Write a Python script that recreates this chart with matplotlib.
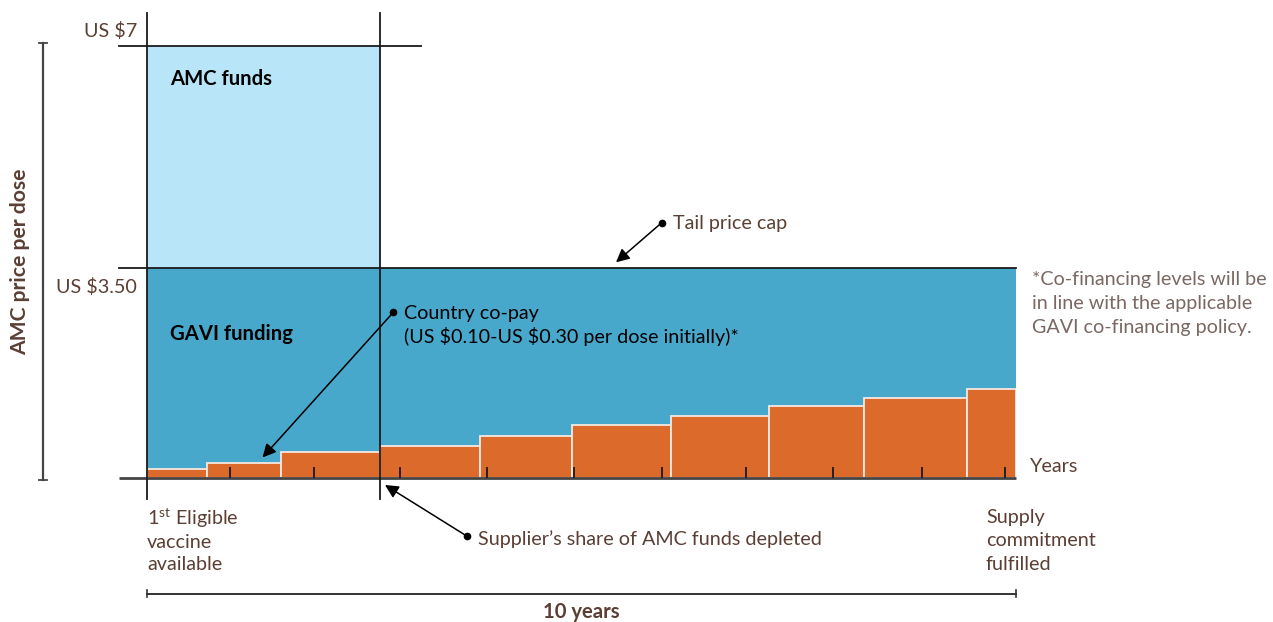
import numpy as np
import matplotlib
matplotlib.use("Agg")
import matplotlib.pyplot as plt
from matplotlib.transforms import blended_transform_factory

# ---------------- data ----------------
price_levels = [3.5, 7.0]                      # US $ per dose: tail price cap, AMC price
price_labels = ["US $3.50", "US $7"]
years_total = 10
amc_depleted_year = 2.682                       # supplier's share of AMC funds depleted
step_edges = [0, 0.687, 1.546, 2.682, 3.836, 4.895, 6.027, 7.161, 8.250, 9.432, 10]
copay = [0.142, 0.243, 0.432, 0.532, 0.689, 0.870, 1.024, 1.201, 1.335, 1.486]
tick_years = [0.952, 1.918, 2.915, 3.913, 4.910, 5.923, 6.889, 7.890, 8.918, 9.870]

# ---------------- style ----------------
W, H = 1273, 622
LIGHT = "#b9e5f8"
DARK = "#48a8cc"
ORANGE = "#dc6a2a"
BROWN = "#5b3f35"
NOTE = "#7a6863"
LINE = "#1a1a1a"
FONT = ["Lato", "DejaVu Sans"]
FS = 14.2
FSB = 14.6

plt.rcParams["font.family"] = FONT
plt.rcParams["mathtext.fontset"] = "custom"
plt.rcParams["mathtext.rm"] = "Lato"

fig = plt.figure(figsize=(W / 100, H / 100), dpi=100)
# data area: x 147..1016 px, y baseline 477.5 px .. $7 line 45.7 px
ax = fig.add_axes([147 / W, 1 - 477.5 / H, (1016 - 147) / W, (477.5 - 45.7) / H])

# piecewise (not-to-scale) price axis, as in the schematic
lo_px, hi_px = 209.2, 222.6


def fwd(y):
    y = np.asarray(y, dtype=float)
    return np.where(y <= 3.5, y * lo_px / 3.5, lo_px + (y - 3.5) * hi_px / 3.5)


def inv(p):
    p = np.asarray(p, dtype=float)
    return np.where(p <= lo_px, p * 3.5 / lo_px, 3.5 + (p - lo_px) * 3.5 / hi_px)


ax.set_yscale("function", functions=(fwd, inv))
ax.set_xlim(0, years_total)
ax.set_ylim(0, price_levels[1])
ax.axis("off")


def fx(x):
    return x / W


def fy(y):
    return 1 - y / H


# funding blocks
ax.bar(0, price_levels[1] - price_levels[0], width=amc_depleted_year, bottom=price_levels[0],
       align="edge", color=LIGHT, linewidth=0, zorder=1)
ax.bar(0, price_levels[0], width=years_total, align="edge", color=DARK, linewidth=0, zorder=1)

# country co-pay steps
edges = np.array(step_edges)
ax.bar(edges[:-1], copay, width=np.diff(edges), align="edge", color=ORANGE,
       edgecolor="#f6e9e1", linewidth=1.3, zorder=2)

# structural lines
xl = -0.322
ax.plot([xl, 3.15], [price_levels[1]] * 2, color=LINE, lw=1.3, clip_on=False, zorder=3)
ax.plot([xl, years_total], [price_levels[0]] * 2, color=LINE, lw=1.3, clip_on=False, zorder=3)
ax.plot([xl, years_total], [0, 0], color="#444444", lw=2.0, clip_on=False, zorder=3, solid_capstyle="butt")
for xv in (0, amc_depleted_year):
    ax.plot([xv, xv], [-0.36, 7.52], color=LINE, lw=1.3, clip_on=False, zorder=4)
ax.vlines(tick_years, 0, 0.17, color=LINE, lw=1.3, zorder=4)

# y-axis bracket
tb = blended_transform_factory(fig.transFigure, ax.transData)
fig.add_artist(plt.Line2D([fx(42.7)] * 2, [7.04, -0.04], transform=tb, color="#444444", lw=1.6))
for yv in (7.04, -0.04):
    fig.add_artist(plt.Line2D([fx(39), fx(46.5)], [yv, yv], transform=tb, color="#444444", lw=1.3))
fig.text(fx(20), fy(262), "AMC price per dose", rotation=90, ha="center", va="center",
         fontsize=15.2, fontweight="bold", color=BROWN)

# price labels
fig.text(fx(137), fy(31), price_labels[1], ha="right", va="center", fontsize=FS, color=BROWN)
fig.text(fx(137), fy(287), price_labels[0], ha="right", va="center", fontsize=FS, color=BROWN)

# block labels
fig.text(fx(170), fy(79), "AMC funds", ha="left", va="center", fontsize=FSB, fontweight="bold", color="black")
fig.text(fx(170), fy(334), "GAVI funding", ha="left", va="center", fontsize=FSB, fontweight="bold", color="black")

# annotations with dot + arrow
def pointer(dot_px, tip_px):
    ax.annotate("", xy=(fx(tip_px[0]), fy(tip_px[1])), xycoords="figure fraction",
                xytext=(fx(dot_px[0]), fy(dot_px[1])), textcoords="figure fraction",
                arrowprops=dict(arrowstyle="-|>", color="black", lw=1.1, mutation_scale=20,
                                shrinkA=0, shrinkB=0), zorder=6)
    fig.add_artist(plt.Line2D([fx(dot_px[0])], [fy(dot_px[1])], marker="o", markersize=4.5,
                              color="black", transform=fig.transFigure))


pointer((661.7, 222.7), (616, 262.3))
fig.text(fx(673), fy(223), "Tail price cap", ha="left", va="center", fontsize=FS, color=BROWN)

pointer((393.3, 312.3), (262.5, 457.5))
fig.text(fx(404.3), fy(313), "Country co-pay", ha="left", va="center", fontsize=FS, color="black")
fig.text(fx(404.3), fy(337), r"(US \$0.10-US \$0.30 per dose initially)*", ha="left", va="center",
         fontsize=FS, color="black")

pointer((466.7, 536), (385, 485))
fig.text(fx(477.7), fy(539), "Supplier\u2019s share of AMC funds depleted", ha="left", va="center",
         fontsize=FS, color=BROWN)

# right notes
for i, line in enumerate(["*Co-financing levels will be", "in line with the applicable",
                          "GAVI co-financing policy."]):
    fig.text(fx(1031.7), fy(280 + 23.5 * i), line, ha="left", va="center", fontsize=FS, color=NOTE)
fig.text(fx(1030), fy(466.7), "Years", ha="left", va="center", fontsize=FS, color=BROWN)

# bottom labels
fig.text(fx(147), fy(518), r"1$^{\mathrm{st}}$ Eligible", ha="left", va="center", fontsize=FS, color=BROWN)
fig.text(fx(147), fy(542), "vaccine", ha="left", va="center", fontsize=FS, color=BROWN)
fig.text(fx(147), fy(565), "available", ha="left", va="center", fontsize=FS, color=BROWN)
for i, line in enumerate(["Supply", "commitment", "fulfilled"]):
    fig.text(fx(986), fy(517 + 23.5 * i), line, ha="left", va="center", fontsize=FS, color=BROWN)

# 10-year bracket
bt = blended_transform_factory(ax.transData, fig.transFigure)
fig.add_artist(plt.Line2D([0, years_total], [fy(593.5)] * 2, transform=bt, color="#333333", lw=1.4))
for xv in (0, years_total):
    fig.add_artist(plt.Line2D([xv, xv], [fy(590), fy(597)], transform=bt, color="#333333", lw=1.2))
fig.text(fx(581), fy(612), "10 years", ha="center", va="center", fontsize=FSB, fontweight="bold", color=BROWN)

fig.savefig("out.png", dpi=100)
